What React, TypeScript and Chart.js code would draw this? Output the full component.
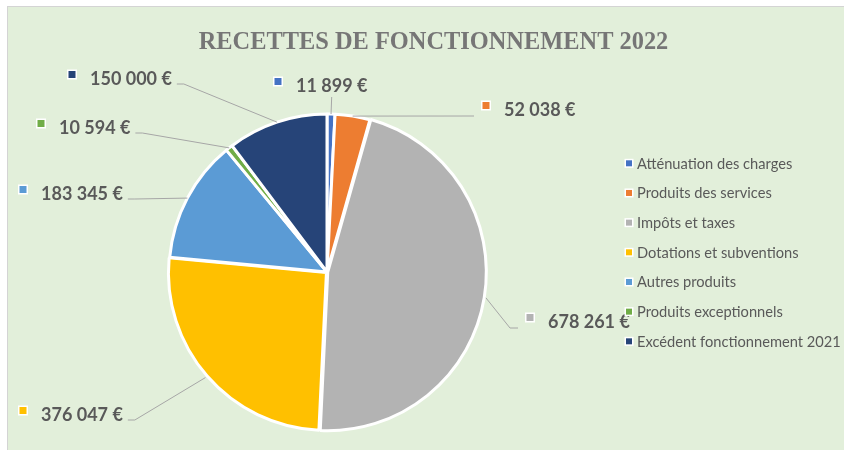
import React, { useEffect, useRef } from "react";
import { Chart, registerables } from "chart.js";

Chart.register(...registerables);

const TITLE = "RECETTES DE FONCTIONNEMENT 2022";
const categories = [
  "Atténuation des charges",
  "Produits des services",
  "Impôts et taxes",
  "Dotations et subventions",
  "Autres produits",
  "Produits exceptionnels",
  "Excédent fonctionnement 2021",
];
const values = [11899, 52038, 678261, 376047, 183345, 10594, 150000];
const colors = ["#4472C4", "#ED7D31", "#B3B3B3", "#FFC000", "#5B9BD5", "#70AD47", "#264478"];
const sliceOffsets = [0, 0, 3, 3, 0, 0, 0];

// label placement relative to pie centre: text left / baseline, and leader style
const labelLayout = [
  { dx: -31, dy: -180, side: "bottom" },
  { dx: 177, dy: -156, side: "left" },
  { dx: 221, dy: 56, side: "left" },
  { dx: -286, dy: 149, side: "right" },
  { dx: -286, dy: -72, side: "right" },
  { dx: -268, dy: -138, side: "right" },
  { dx: -237, dy: -187, side: "right" },
];

const fmt = (v: number) => {
  const s = String(Math.round(v));
  return s.replace(/\B(?=(\d{3})+(?!\d))/g, " ") + " €";
};

const TEXT = "#595959";
const LINE = "#A6A6A6";

const overlayPlugin = {
  id: "overlay",
  afterDatasetsDraw(chart: any) {
    const ctx = chart.ctx as CanvasRenderingContext2D;
    const meta = chart.getDatasetMeta(0);
    ctx.save();
    // title
    ctx.font = "bold 24.4px 'Liberation Serif', 'Times New Roman', serif";
    ctx.fillStyle = "#767676";
    ctx.textAlign = "center";
    ctx.textBaseline = "alphabetic";
    ctx.fillText(TITLE, 425.5, 42);

    // data labels
    ctx.font = "bold 18px Lato, 'Open Sans', sans-serif";
    meta.data.forEach((el: any, i: number) => {
      const p = el.getProps(["x", "y", "startAngle", "endAngle", "outerRadius"], true);
      const mid = (p.startAngle + p.endAngle) / 2;
      const off = sliceOffsets[i] || 0;
      const r = p.outerRadius + off;
      const ex = p.x + Math.cos(mid) * r;
      const ey = p.y + Math.sin(mid) * r;
      const L = labelLayout[i];
      const tx = p.x + L.dx;
      const by = p.y + L.dy;
      const text = fmt(values[i]);
      const w = ctx.measureText(text).width;

      ctx.strokeStyle = LINE;
      ctx.lineWidth = 1;
      ctx.beginPath();
      if (L.side === "right") {
        const sx = tx + w + 5;
        const sy = by - 1;
        ctx.moveTo(sx, sy);
        ctx.lineTo(sx + 7, sy);
        ctx.lineTo(ex, ey);
      } else if (L.side === "left") {
        const endX = tx - 23 - 7;
        const endY = by;
        ctx.moveTo(ex, ey);
        if (Math.abs(ey - endY) > 2) ctx.lineTo(endX - 8, endY);
        ctx.lineTo(endX, endY);
      } else {
        const cx = tx + w / 2;
        ctx.moveTo(cx, by + 5);
        ctx.lineTo(ex, ey);
      }
      ctx.stroke();

      // marker
      const mx = tx - 18;
      const my = by - 10.5;
      ctx.fillStyle = "#FFFFFF";
      ctx.fillRect(mx - 5, my - 5, 10, 10);
      ctx.fillStyle = colors[i];
      ctx.fillRect(mx - 3.5, my - 3.5, 7, 7);

      ctx.fillStyle = TEXT;
      ctx.textAlign = "left";
      ctx.textBaseline = "alphabetic";
      ctx.fillText(text, tx, by);
    });

    // legend
    ctx.font = "14.67px Lato, 'Open Sans', sans-serif";
    ctx.textAlign = "left";
    ctx.textBaseline = "middle";
    categories.forEach((c, i) => {
      const cy = 156.3 + i * 29.67;
      const mx = 621;
      ctx.fillStyle = "#FFFFFF";
      ctx.fillRect(mx - 4.5, cy - 4.5, 9, 9);
      ctx.fillStyle = colors[i];
      ctx.fillRect(mx - 3, cy - 3, 6, 6);
      ctx.fillStyle = TEXT;
      ctx.fillText(c, 629, cy + 0.5);
    });
    ctx.restore();
  },
};

export default function App() {
  const ref = useRef<HTMLCanvasElement | null>(null);
  useEffect(() => {
    if (!ref.current) return;
    const chart = new Chart(ref.current, {
      type: "pie",
      data: {
        labels: categories,
        datasets: [
          {
            data: values,
            backgroundColor: colors,
            borderColor: "#FFFFFF",
            borderWidth: 3,
            offset: sliceOffsets,
            radius: 158,
          } as any,
        ],
      },
      options: {
        animation: false,
        responsive: false,
        maintainAspectRatio: false,
        layout: { padding: { left: 161, right: 359, top: 107, bottom: 20 } },
        plugins: {
          legend: { display: false },
          title: { display: false },
          tooltip: { enabled: false },
        },
      },
      plugins: [overlayPlugin],
    });
    return () => chart.destroy();
  }, []);
  return (
    <div
      style={{
        position: "absolute",
        left: 7,
        top: 6,
        width: 837,
        height: 444,
        background: "#E2EFDA",
        borderLeft: "1px solid #D4D4D4",
        borderTop: "1px solid #D4D4D4",
        overflow: "hidden",
      }}
    >
      <canvas ref={ref} width={836} height={443} style={{ display: "block", width: 836, height: 443 }} />
    </div>
  );
}
